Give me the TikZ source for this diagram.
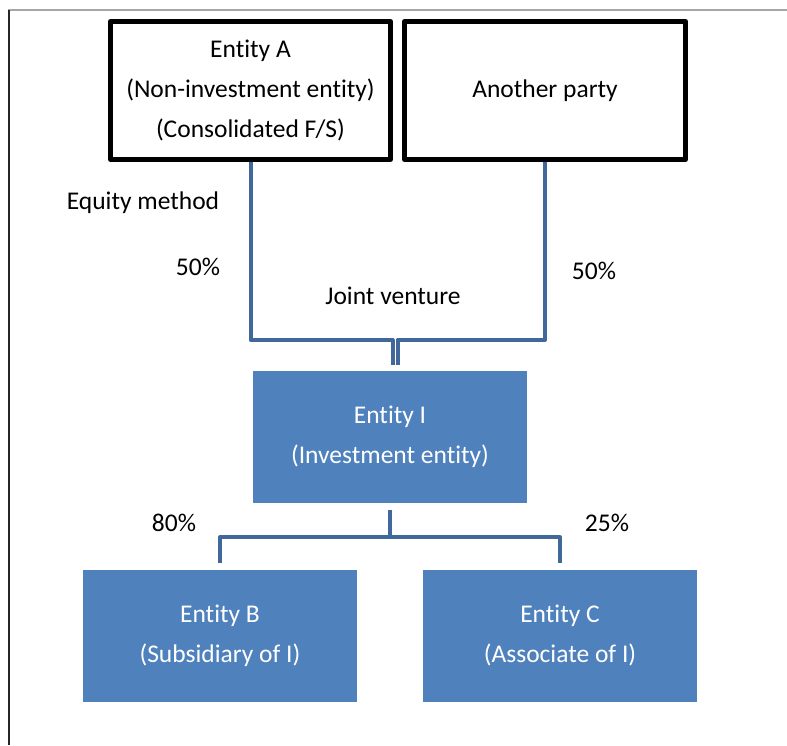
\documentclass[tikz,border=0pt]{standalone}
\usepackage{fontspec}
\setmainfont[Ligatures={NoCommon}]{Carlito}
\definecolor{boxblue}{HTML}{4F81BD}
\definecolor{lineblue}{HTML}{41689A}
\begin{document}
\begin{tikzpicture}[x=1pt,y=-1pt,
  every node/.style={font=\fontsize{25.5}{40}\selectfont, inner sep=0pt},
  whitebox/.style={draw=black, line width=5pt, minimum width=280pt, minimum height=138pt, align=center, line join=round},
  bluebox/.style={fill=boxblue, text=white, minimum width=274pt, minimum height=132pt, align=center},
  conn/.style={draw=lineblue, line width=4pt, line join=round},
  lbl/.style={text=black}]
\useasboundingbox (0,0) rectangle (787,745);
\draw[gray!70, line width=1.2pt] (8,10) -- (787,10);
\draw[black!85, line width=2pt] (9,10) -- (9,745);
\node[whitebox] (A) at (250.5,90.5) {Entity A\\(Non-investment entity)\\(Consolidated F/S)};
\node[whitebox, minimum width=281pt] (P) at (545,90.5) {Another party};
\node[bluebox] (I) at (390,437) {Entity I\\(Investment entity)};
\node[bluebox] (B) at (220,635.5) {Entity B\\(Subsidiary of I)};
\node[bluebox] (C) at (560,635.5) {Entity C\\(Associate of I)};
\draw[conn] (A.south) |- ([xshift=2.5pt,yshift=31pt]I.north) -- ([xshift=2.5pt,yshift=6pt]I.north);
\draw[conn] (P.south) |- ([xshift=7.5pt,yshift=31pt]I.north) -- ([xshift=7.5pt,yshift=6pt]I.north);
\draw[conn] ([yshift=-7pt]I.south) -- ([yshift=-34pt]I.south);
\draw[conn] ([yshift=6pt]B.north) -- ([yshift=32pt]B.north) -- ([yshift=32pt]C.north) -- ([yshift=6pt]C.north);
\node[lbl] (eq) at (143,203) {Equity method};
\node[lbl] (pa) at (198,267) {50\%};
\node[lbl] (jv) at (393,296) {Joint venture};
\node[lbl] (pb) at (594,271) {50\%};
\node[lbl] (pc) at (174,523) {80\%};
\node[lbl] (pd) at (607,523) {25\%};
\end{tikzpicture}
\end{document}
